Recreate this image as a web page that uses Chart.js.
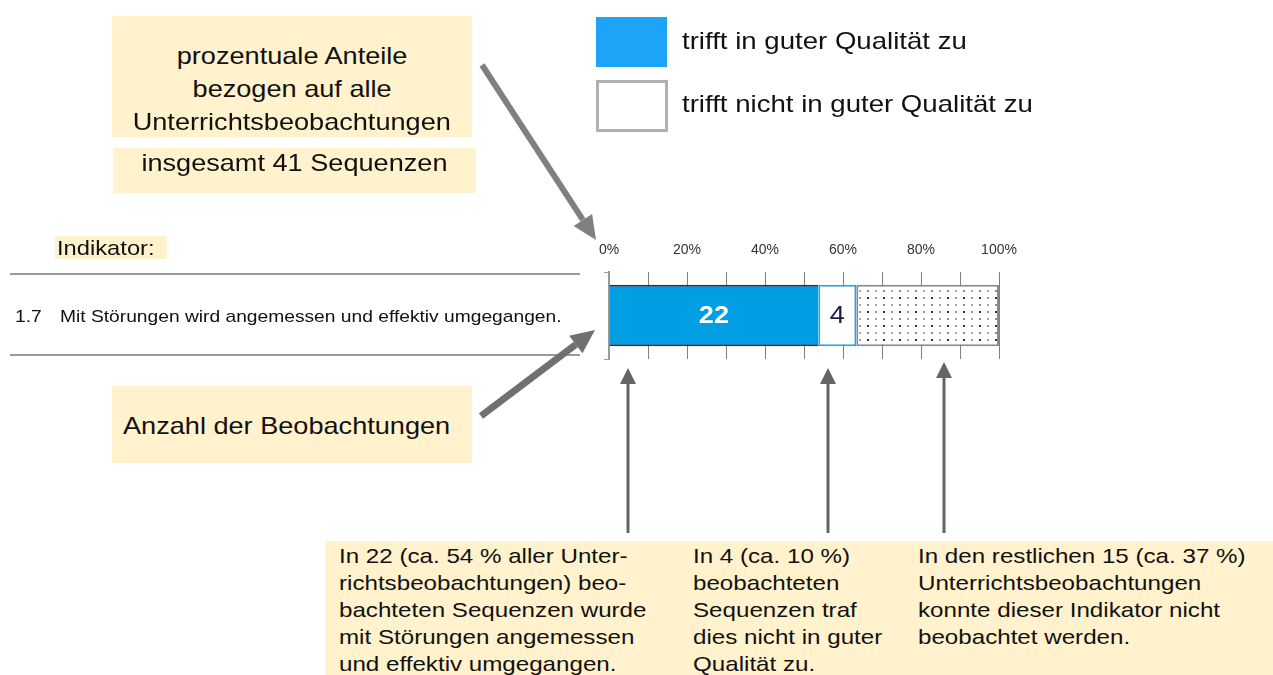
<!DOCTYPE html>
<html>
<head>
<meta charset="utf-8">
<script src="https://cdn.jsdelivr.net/npm/chart.js@4.4.1/dist/chart.umd.min.js"></script>
<style>
  html, body { margin: 0; padding: 0; background: #fff; width: 1273px; height: 675px; overflow: hidden; }
  body { position: relative; font-family: "Liberation Sans", Arial, sans-serif; color: #111; }
  .abs { position: absolute; }
  .box { position: absolute; background: #FFF2CC; }
  .sx { display: inline-block; transform: scaleX(1.13); transform-origin: left center; white-space: nowrap; }
  .sxc { display: inline-block; transform: scaleX(1.13); transform-origin: center center; white-space: nowrap; }
  .exp .sx { transform: scaleX(1.15); }
  #chart { position: absolute; left: 0; top: 0; }
  #overlay { position: absolute; left: 0; top: 0; pointer-events: none; }
</style>
</head>
<body>
<canvas id="chart" width="1273" height="675"></canvas>

<div class="box" style="left:112px;top:16px;width:360px;height:121px;"></div>
<div class="abs" id="introText" style="left:112px;top:39px;width:360px;text-align:center;font-size:24px;line-height:33px;"></div>
<div class="box" style="left:113px;top:148px;width:363px;height:45px;"></div>
<div class="abs" id="totalText" style="left:113px;top:148px;width:363px;text-align:center;font-size:24px;line-height:30px;"></div>

<div class="abs" id="legend" style="left:596px;top:17px;"></div>

<div class="box" style="left:55px;top:236px;width:112px;height:23px;"></div>
<div class="abs" id="indLabel" style="left:57px;top:235px;font-size:21px;line-height:26px;"></div>
<div class="abs" style="left:10px;top:273px;width:570px;height:2px;background:#9a9a9a;"></div>
<div class="abs" style="left:10px;top:354px;width:570px;height:2px;background:#9a9a9a;"></div>
<div class="abs" id="rowNum" style="left:15px;top:306px;font-size:17px;line-height:22px;"></div>
<div class="abs" id="rowText" style="left:60px;top:306px;font-size:17px;line-height:22px;"></div>

<div class="box" style="left:112px;top:386px;width:360px;height:77px;"></div>
<div class="abs" id="countText" style="left:123px;top:410px;font-size:24px;line-height:32px;"></div>

<div class="box" style="left:325px;top:541px;width:948px;height:134px;"></div>
<div class="abs exp" id="exp1" style="left:339px;top:542px;font-size:21px;line-height:27px;"></div>
<div class="abs exp" id="exp2" style="left:693px;top:542px;font-size:21px;line-height:27px;"></div>
<div class="abs exp" id="exp3" style="left:918px;top:542px;font-size:21px;line-height:27px;"></div>

<svg id="overlay" width="1273" height="675"></svg>

<script>
// ---------------- data ----------------
const categories = ['Mit Störungen wird angemessen und effektiv umgegangen.'];
const categoryNumbers = ['1.7'];
const seriesLabels = ['trifft in guter Qualität zu', 'trifft nicht in guter Qualität zu', 'nicht beobachtet'];
const countGood = [22];
const countNotGood = [4];
const countNotObserved = [15];
const totalSequences = 41;
const xTickValues = [0, 10, 20, 30, 40, 50, 60, 70, 80, 90, 100];
const xTickLabels = ['0%', '', '20%', '', '40%', '', '60%', '', '80%', '', '100%'];

const introLines = ['prozentuale Anteile', 'bezogen auf alle', 'Unterrichtsbeobachtungen'];
const totalLine = 'insgesamt 41 Sequenzen';
const indicatorHeading = 'Indikator:';
const countCaption = 'Anzahl der Beobachtungen';
const explanation1 = ['In 22 (ca. 54 % aller Unter-', 'richtsbeobachtungen) beo-', 'bachteten Sequenzen wurde', 'mit Störungen angemessen', 'und effektiv umgegangen.'];
const explanation2 = ['In 4 (ca. 10 %)', 'beobachteten', 'Sequenzen traf', 'dies nicht in guter', 'Qualität zu.'];
const explanation3 = ['In den restlichen 15 (ca. 37 %)', 'Unterrichtsbeobachtungen', 'konnte dieser Indikator nicht', 'beobachtet werden.'];

// ---------------- text ----------------
function fillLines(id, lines, cls) {
  const el = document.getElementById(id);
  lines.forEach(function (t) {
    const d = document.createElement('div');
    const s = document.createElement('span');
    s.className = cls || 'sx';
    s.textContent = t;
    d.appendChild(s);
    el.appendChild(d);
  });
}
fillLines('introText', introLines, 'sxc');
fillLines('totalText', [totalLine], 'sxc');
fillLines('indLabel', [indicatorHeading]);
fillLines('rowNum', categoryNumbers);
fillLines('rowText', categories);
fillLines('countText', [countCaption]);
fillLines('exp1', explanation1);
fillLines('exp2', explanation2);
fillLines('exp3', explanation3);

// legend
const legendColors = ['#1ea4f6', '#ffffff'];
const legendBorders = ['#1ea4f6', '#b0b0b0'];
(function () {
  const lg = document.getElementById('legend');
  [0, 1].forEach(function (i) {
    const row = document.createElement('div');
    row.style.cssText = 'position:absolute;left:0;top:' + (i * 63) + 'px;width:460px;height:51px;';
    const sw = document.createElement('div');
    sw.style.cssText = 'position:absolute;left:0;top:0;width:' + (i ? 66 : 71) + 'px;height:' + (i ? 46 : 50) + 'px;background:' + legendColors[i] + ';border:' + (i ? 3 : 0) + 'px solid ' + legendBorders[i] + ';';
    const tx = document.createElement('div');
    tx.style.cssText = 'position:absolute;left:86px;top:10px;font-size:24px;line-height:28px;color:#111;';
    const sp = document.createElement('span');
    sp.className = 'sx';
    sp.style.transform = 'scaleX(1.15)';
    sp.textContent = seriesLabels[i];
    tx.appendChild(sp);
    row.appendChild(sw);
    row.appendChild(tx);
    lg.appendChild(row);
  });
})();

// ---------------- arrows ----------------
function arrow(svg, x1, y1, x2, y2, w, headLen, headW, color) {
  const ns = 'http://www.w3.org/2000/svg';
  const dx = x2 - x1, dy = y2 - y1;
  const len = Math.sqrt(dx * dx + dy * dy);
  const ux = dx / len, uy = dy / len;
  const bx = x2 - ux * headLen, by = y2 - uy * headLen;
  const line = document.createElementNS(ns, 'line');
  line.setAttribute('x1', x1); line.setAttribute('y1', y1);
  line.setAttribute('x2', bx); line.setAttribute('y2', by);
  line.setAttribute('stroke', color); line.setAttribute('stroke-width', w);
  svg.appendChild(line);
  const px = -uy, py = ux;
  const poly = document.createElementNS(ns, 'polygon');
  poly.setAttribute('points', x2 + ',' + y2 + ' ' + (bx + px * headW / 2) + ',' + (by + py * headW / 2) + ' ' + (bx - px * headW / 2) + ',' + (by - py * headW / 2));
  poly.setAttribute('fill', color);
  svg.appendChild(poly);
}
const svg = document.getElementById('overlay');
arrow(svg, 482, 65, 596, 240, 6, 24, 22, '#808080');
arrow(svg, 481, 416, 595, 330, 7, 24, 22, '#707070');
arrow(svg, 628, 533, 628, 368, 3, 16, 16, '#646464');
arrow(svg, 828, 533, 828, 368, 3, 16, 16, '#646464');
arrow(svg, 944, 533, 944, 362, 3, 16, 16, '#646464');

// ---------------- chart ----------------
function dotPattern() {
  const c = document.createElement('canvas');
  c.width = 16; c.height = 14;
  const g = c.getContext('2d');
  g.fillStyle = '#ffffff';
  g.fillRect(0, 0, 16, 14);
  g.fillStyle = '#333333'; g.fillRect(3, 3, 2, 2);
  g.fillStyle = '#999999'; g.fillRect(11, 3, 2, 2);
  g.fillStyle = '#888888'; g.fillRect(3, 10, 2, 2);
  g.fillStyle = '#aaaaaa'; g.fillRect(11, 10, 2, 2);
  const ctx = document.getElementById('chart').getContext('2d');
  return ctx.createPattern(c, 'repeat');
}

function pct(arr) { return arr.map(function (v) { return v / totalSequences * 100; }); }

const countLabelPlugin = {
  id: 'countLabels',
  afterDatasetsDraw: function (chart) {
    const ctx = chart.ctx;
    chart.data.datasets.forEach(function (ds, di) {
      if (!ds.counts || !ds.showCount) return;
      const meta = chart.getDatasetMeta(di);
      meta.data.forEach(function (el, i) {
        const p = el.getCenterPoint();
        ctx.save();
        ctx.font = ds.countFont;
        ctx.fillStyle = ds.countColor;
        ctx.textAlign = 'center';
        ctx.textBaseline = 'middle';
        ctx.translate(p.x, p.y + 1);
        ctx.scale(1.13, 1);
        ctx.fillText(String(ds.counts[i]), 0, 0);
        ctx.restore();
      });
    });
  }
};

new Chart(document.getElementById('chart'), {
  type: 'bar',
  data: {
    labels: categories,
    datasets: [
      {
        label: seriesLabels[0], data: pct(countGood), counts: countGood, showCount: true,
        countFont: 'bold 24px "Liberation Sans", Arial, sans-serif', countColor: '#ffffff',
        backgroundColor: '#009fe3', borderColor: '#0d3a70',
        borderWidth: { top: 2, bottom: 2, left: 0, right: 0 }, borderSkipped: false
      },
      {
        label: seriesLabels[1], data: pct(countNotGood), counts: countNotGood, showCount: true,
        countFont: '24px "Liberation Sans", Arial, sans-serif', countColor: '#1c1c50',
        backgroundColor: '#ffffff', borderColor: '#2aa6e0', borderWidth: 2, borderSkipped: false
      },
      {
        label: seriesLabels[2], data: pct(countNotObserved), counts: countNotObserved, showCount: false,
        backgroundColor: dotPattern(), borderColor: '#8a8a8a', borderWidth: 2, borderSkipped: false
      }
    ]
  },
  options: {
    indexAxis: 'y',
    responsive: false,
    animation: false,
    devicePixelRatio: 1,
    barPercentage: 0.705,
    categoryPercentage: 1,
    layout: { padding: { left: 609, right: 274, top: 242, bottom: 316 } },
    plugins: { legend: { display: false }, tooltip: { enabled: false } },
    scales: {
      x: {
        type: 'linear', position: 'top', stacked: true, min: 0, max: 100,
        afterFit: function (s) { s.height = 30; },
        afterBuildTicks: function (s) { s.ticks = xTickValues.map(function (v) { return { value: v }; }); },
        ticks: {
          autoSkip: false, maxRotation: 0, padding: 13, color: '#333333',
          font: { family: '"Liberation Sans", Arial, sans-serif', size: 14 },
          callback: function (v) { return xTickLabels[xTickValues.indexOf(v)]; }
        },
        grid: { color: '#7f7f7f', lineWidth: 1, drawTicks: false },
        border: { display: false }
      },
      y: {
        type: 'category', stacked: true,
        afterFit: function (s) { s.width = 0; },
        ticks: { display: false },
        grid: { drawOnChartArea: false, drawTicks: true, tickLength: 5, color: '#999999', offset: true },
        border: { display: true, color: '#999999', width: 2 }
      }
    }
  },
  plugins: [countLabelPlugin]
});
</script>
</body>
</html>
